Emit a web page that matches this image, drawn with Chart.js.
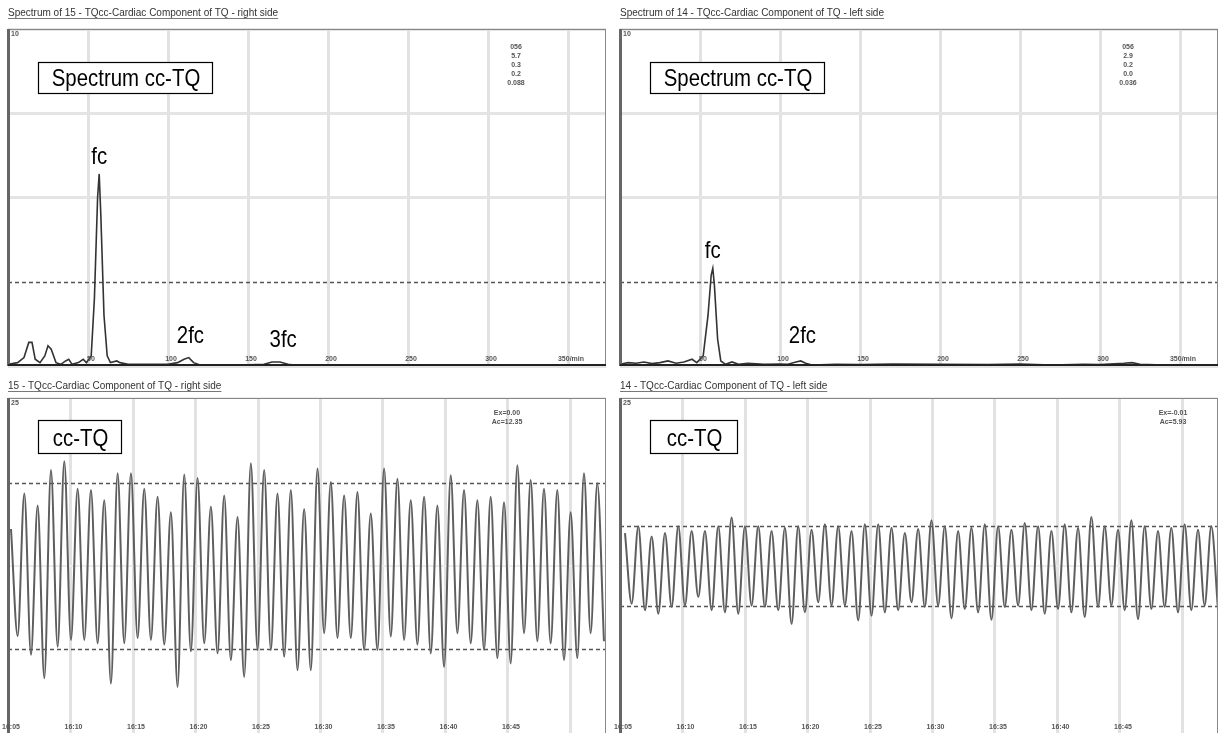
<!DOCTYPE html>
<html>
<head>
<meta charset="utf-8">
<script src="https://cdn.jsdelivr.net/npm/chart.js@4.4.0/dist/chart.umd.min.js"></script>
<style>
  html, body { margin: 0; padding: 0; background: #fff; overflow: hidden; width: 1220px; height: 733px; }
  canvas { position: absolute; }
</style>
</head>
<body>
<canvas id="specRight" width="612" height="372" style="left:0;top:0"></canvas>
<canvas id="specLeft" width="612" height="372" style="left:612px;top:0"></canvas>
<canvas id="waveRight" width="612" height="364" style="left:0;top:372px"></canvas>
<canvas id="waveLeft" width="612" height="364" style="left:612px;top:372px"></canvas>
<script>
// spectrum of 15 - right side (frequency in /min, amplitude)
const specRightFreq = [0, 6, 10, 13, 15, 17, 20, 23, 25, 27, 30, 33, 36, 38, 40, 44, 47, 49, 52, 54, 56, 57, 58, 60, 62, 64, 68, 70, 75, 90, 100, 106, 110, 113, 116, 120, 140, 160, 165, 170, 175, 180, 250, 260, 265, 374];
const specRightAmp  = [0.05, 0.1, 0.25, 0.7, 0.7, 0.2, 0.1, 0.3, 0.6, 0.5, 0.1, 0.05, 0.15, 0.2, 0.05, 0.1, 0.2, 0.1, 0.3, 2.0, 5.0, 5.7, 4.5, 1.5, 0.3, 0.1, 0.15, 0.1, 0.05, 0.05, 0.05, 0.1, 0.2, 0.25, 0.1, 0.03, 0.02, 0.05, 0.12, 0.12, 0.05, 0.02, 0.01, 0.03, 0.01, 0.01];

// spectrum of 14 - left side
const specLeftFreq = [0, 5, 10, 15, 20, 25, 30, 35, 40, 45, 48, 52, 55, 57, 58, 59, 61, 63, 66, 70, 74, 80, 90, 100, 105, 110, 113, 116, 120, 135, 150, 170, 200, 230, 250, 270, 290, 300, 315, 320, 325, 340, 374];
const specLeftAmp  = [0.05, 0.1, 0.08, 0.12, 0.07, 0.1, 0.15, 0.08, 0.12, 0.2, 0.1, 0.3, 1.5, 2.7, 2.9, 2.4, 0.8, 0.15, 0.05, 0.12, 0.05, 0.08, 0.05, 0.06, 0.05, 0.12, 0.15, 0.08, 0.03, 0.05, 0.04, 0.06, 0.05, 0.04, 0.06, 0.03, 0.05, 0.04, 0.08, 0.1, 0.05, 0.03, 0.02];

const specTickLabels = ['50', '100', '150', '200', '250', '300', '350/min'];
const specInfoRight = ['056', '5.7', '0.3', '0.2', '0.088'];
const specInfoLeft = ['056', '2.9', '0.2', '0.0', '0.036'];

// cc-TQ signals: successive peaks and troughs, one sample every half beat
const waveRightSide = [5.5, -10.4, 10.8, -13.2, 9, -16.7, 14.3, -12, 15.6, -11, 11.5, -11, 11.3, -11.5, 9.8, -17.5, 13.8, -11.5, 13.8, -10.7,
  11.5, -11, 10.3, -11.7, 8, -18, 13.6, -12.7, 13.1, -11.5, 8.8, -13, 10.5, -14, 7.3, -16.5, 15.3, -12.5, 14.3, -12.5,
  10.8, -13.5, 11.3, -15.5, 8.5, -15.5, 14.5, -10, 12.5, -10.7, 10.5, -10.7, 11, -12.5, 7.8, -12.5, 14.5, -10.5, 13, -11,
  9.8, -11.7, 10.3, -13, 9, -15, 13.5, -10, 11.3, -11.5, 9.8, -12.5, 10.3, -13.7, 9.5, -14.5, 15, -10, 12.8, -11.2,
  11.5, -11.5, 11.3, -14, 8, -13.7, 13.8, -10, 12.3, -11.2];
const waveLeftSide = [4.9, -5.6, 5.9, -6.6, 4.4, -7.1, 4.9, -6.1, 5.9, -5.9, 5.2, -4.6, 5.2, -6.6, 5.9, -6.9, 7.2, -7.1, 5.9, -5.9,
  5.9, -6.1, 5.2, -6.6, 5.7, -8.6, 5.9, -6.9, 5.4, -5.4, 6.2, -5.9, 5.9, -5.9, 5.2, -8.1, 6.2, -7.4, 6.2, -6.9,
  5.7, -6.6, 4.9, -5.4, 5.5, -6.1, 6.8, -5.9, 5.9, -7.8, 5.2, -6.4, 5.7, -6.9, 6.2, -8.0, 5.9, -6.1, 5.4, -5.9,
  6.4, -6.6, 5.9, -7.1, 5.2, -6.4, 6.2, -6.9, 5.7, -7.6, 7.3, -6.1, 5.9, -5.9, 5.4, -6.6, 6.8, -7.9, 5.9, -6.4,
  5.2, -6.1, 5.7, -6.9, 6.2, -6.6, 5.4, -5.9, 5.9, -6.4];
const halfBeat = 0.533;   // seconds between a peak and the next trough
const timeLabels = ['16:05', '16:10', '16:15', '16:20', '16:25', '16:30', '16:35', '16:40', '16:45'];

const bigFont = "24px 'Liberation Sans', Arial, sans-serif";
const tinyFont = "bold 7px 'Liberation Sans', Arial, sans-serif";

function condensedText(ctx, text, cx, baseline) {
    ctx.save();
    ctx.font = bigFont;
    ctx.textAlign = 'center';
    ctx.textBaseline = 'alphabetic';
    ctx.translate(cx, baseline);
    ctx.scale(0.85, 1);
    ctx.fillStyle = '#000';
    ctx.fillText(text, 0, 0);
    ctx.restore();
}

// frame, dashed levels, tick labels, boxes and notes
const decor = {
    id: 'decor',
    beforeDatasetsDraw(chart, args, o) {
        const { ctx, chartArea: a, scales: { y } } = chart;
        ctx.save();
        ctx.strokeStyle = '#555';
        ctx.lineWidth = 1.3;
        ctx.setLineDash([4, 3]);
        (o.dashed || []).forEach(v => {
            const py = Math.round(y.getPixelForValue(v)) + 0.5;
            ctx.beginPath();
            ctx.moveTo(a.left, py);
            ctx.lineTo(a.right, py);
            ctx.stroke();
        });
        ctx.restore();
    },
    afterDraw(chart, args, o) {
        const { ctx, chartArea: a, scales: { x, y } } = chart;
        ctx.save();
        // title underline
        const tb = chart.titleBlock;
        if (tb) {
            ctx.font = "10px 'Liberation Sans', Arial, sans-serif";
            const w = ctx.measureText(chart.options.plugins.title.text).width;
            ctx.strokeStyle = '#555';
            ctx.lineWidth = 0.8;
            ctx.beginPath();
            ctx.moveTo(tb.left, o.underline + 0.5);
            ctx.lineTo(tb.left + w, o.underline + 0.5);
            ctx.stroke();
        }
        // frame
        ctx.strokeStyle = '#888';
        ctx.lineWidth = 1;
        ctx.strokeRect(a.left + 0.5, a.top + 0.5, a.width - 1, a.height - 1);
        ctx.fillStyle = '#666';
        ctx.fillRect(a.left - 1, a.top, 3, a.height);
        if (o.baseline) {
            ctx.fillStyle = '#222';
            ctx.fillRect(a.left, a.bottom - 2, a.width, 2);
        }
        // top value of the y scale
        ctx.font = tinyFont;
        ctx.fillStyle = '#555';
        ctx.textAlign = 'left';
        ctx.textBaseline = 'top';
        ctx.fillText(String(y.max), a.left + 3, a.top + 2);
        // x tick labels, drawn inside the plot
        ctx.textAlign = 'center';
        ctx.textBaseline = 'alphabetic';
        const labels = o.tickLabels || [];
        let n = 0;
        x.ticks.forEach(t => {
            if (t.value < o.firstTick) return;
            if (n >= labels.length) return;
            ctx.fillText(labels[n], x.getPixelForValue(t.value) + 3, a.bottom - 5);
            n++;
        });
        // small notes box
        ctx.textAlign = 'center';
        (o.info || []).forEach((s, i) => {
            ctx.fillText(s, a.left + o.infoX, a.top + o.infoY + i * 9);
        });
        // label box
        const bx = a.left + o.boxX, by = a.top + o.boxY;
        ctx.fillStyle = '#fff';
        ctx.fillRect(bx, by, o.boxW, o.boxH);
        ctx.strokeStyle = '#000';
        ctx.lineWidth = 1.2;
        ctx.strokeRect(bx + 0.5, by + 0.5, o.boxW, o.boxH);
        condensedText(ctx, o.boxText, bx + o.boxW / 2 + 1, by + o.boxH - 7);
        // harmonic labels at data positions
        (o.marks || []).forEach(m => {
            condensedText(ctx, m.text, x.getPixelForValue(m.f), y.getPixelForValue(m.a));
        });
        ctx.restore();
    }
};

function titleOpts(text, top, bottom) {
    return {
        display: true,
        text: text,
        align: 'start',
        color: '#333',
        font: { family: "'Liberation Sans', Arial, sans-serif", size: 10, weight: 'normal' },
        padding: { top: top, bottom: bottom }
    };
}

function spectrumChart(id, freq, amp, title, info, marks) {
    new Chart(document.getElementById(id), {
        type: 'line',
        data: {
            datasets: [{
                data: freq.map((f, i) => ({ x: f, y: amp[i] })),
                borderColor: '#333',
                borderWidth: 1.6,
                pointRadius: 0,
                tension: 0,
                fill: false
            }]
        },
        options: {
            responsive: false,
            animation: false,
            layout: { padding: { left: 8, right: 6, bottom: 6, top: 0 } },
            scales: {
                x: {
                    type: 'linear', min: 0, max: 373.75,
                    ticks: { display: false, stepSize: 50, includeBounds: false },
                    grid: { color: '#e2e2e2', lineWidth: 3, drawTicks: false },
                    border: { display: false }
                },
                y: {
                    min: 0, max: 10,
                    ticks: { display: false, stepSize: 2.5 },
                    grid: { color: c => c.tick.value === 2.5 ? 'rgba(0,0,0,0)' : '#e4e4e4', lineWidth: 3, drawTicks: false },
                    border: { display: false }
                }
            },
            plugins: {
                legend: { display: false },
                tooltip: { enabled: false },
                title: titleOpts(title, 7, 10),
                decor: {
                    dashed: [2.5], baseline: true, underline: 18,
                    tickLabels: specTickLabels, firstTick: 50,
                    info: info, infoX: 508, infoY: 20,
                    boxX: 30, boxY: 33, boxW: 174, boxH: 31, boxText: 'Spectrum cc-TQ',
                    marks: marks
                }
            }
        },
        plugins: [decor]
    });
}

function waveChart(id, wave, start, title, ac, info, infoX, boxW) {
    new Chart(document.getElementById(id), {
        type: 'line',
        data: {
            datasets: [{
                data: wave.map((v, i) => ({ x: start + i * halfBeat, y: v })),
                borderColor: '#5e5e5e',
                borderWidth: 2,
                pointRadius: 0,
                cubicInterpolationMode: 'monotone',
                fill: false
            }]
        },
        options: {
            responsive: false,
            animation: false,
            layout: { padding: { left: 8, right: 6, bottom: 2, top: 0 } },
            scales: {
                x: {
                    type: 'linear', min: 0, max: 47.84,
                    ticks: { display: false, stepSize: 5, includeBounds: false },
                    grid: { color: '#e2e2e2', lineWidth: 3, drawTicks: false },
                    border: { display: false }
                },
                y: {
                    min: -25, max: 25,
                    ticks: { display: false, stepSize: 25 },
                    grid: { color: '#ececec', lineWidth: 2, drawTicks: false },
                    border: { display: false }
                }
            },
            plugins: {
                legend: { display: false },
                tooltip: { enabled: false },
                title: titleOpts(title, 8, 6),
                decor: {
                    dashed: [ac, -ac], baseline: false, underline: 19,
                    tickLabels: timeLabels, firstTick: 0,
                    info: info, infoX: infoX, infoY: 17,
                    boxX: 30, boxY: 22, boxW: boxW, boxH: 33, boxText: 'cc-TQ',
                    marks: []
                }
            }
        },
        plugins: [decor]
    });
}

spectrumChart('specRight', specRightFreq, specRightAmp,
    'Spectrum of 15 - TQcc-Cardiac Component of TQ - right side', specInfoRight,
    [{ text: 'fc', f: 57, a: 6.0 }, { text: '2fc', f: 114, a: 0.68 }, { text: '3fc', f: 172, a: 0.56 }]);
spectrumChart('specLeft', specLeftFreq, specLeftAmp,
    'Spectrum of 14 - TQcc-Cardiac Component of TQ - left side', specInfoLeft,
    [{ text: 'fc', f: 58, a: 3.2 }, { text: '2fc', f: 114, a: 0.68 }]);
waveChart('waveRight', waveRightSide, 0.24, '15 - TQcc-Cardiac Component of TQ - right side', 12.35,
    ['Ex=0.00', 'Ac=12.35'], 499, 83);
waveChart('waveLeft', waveLeftSide, 0.4, '14 - TQcc-Cardiac Component of TQ - left side', 5.93,
    ['Ex=-0.01', 'Ac=5.93'], 553, 87);
</script>
</body>
</html>
